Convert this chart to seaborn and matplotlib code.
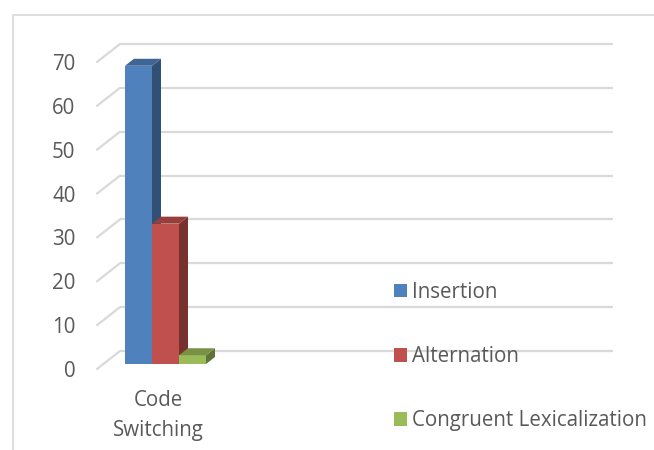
import pandas as pd
import numpy as np
import matplotlib
matplotlib.use("Agg")
import matplotlib.pyplot as plt
import matplotlib.transforms as mtransforms
from matplotlib.patches import Polygon, Rectangle
import seaborn as sns

# data
categories = ["Code Switching"]
series = ["Insertion", "Alternation", "Congruent Lexicalization"]
values = [68, 32, 2]
y_ticks = [0, 10, 20, 30, 40, 50, 60, 70]

df = pd.DataFrame({
    "category": categories * len(series),
    "series": series,
    "value": values,
})

palette = ["#4F81BD", "#C0504D", "#9BBB59"]
text_color = "#595959"
grid_color = "#D9D9D9"
font_size = 14.8

sns.set_style("white")
plt.rcParams["font.family"] = ["Open Sans", "DejaVu Sans"]

W, H = 654, 450
fig = plt.figure(figsize=(W / 100, H / 100), dpi=100)

# bar plane in pixels (from top-left)
left_px, right_px = 97, 590
top_px, bottom_px = 57, 364
center_px = 165.5
ax = fig.add_axes([left_px / W, (H - bottom_px) / H,
                   (right_px - left_px) / W, (bottom_px - top_px) / H])

sns.barplot(data=df, x="category", y="value", hue="series", palette=palette,
            saturation=1, width=0.8, ax=ax, legend=True)

ax.set_ylim(0, 70)
ppy = (bottom_px - top_px) / 70.0
ppx = 27 / (0.8 / 3)
ax.set_xlim((left_px - center_px) / ppx, (right_px - center_px) / ppx)

# back wall gridlines with their 3D floor diagonals
back_dy = 13 / ppy
gx0 = (120 - center_px) / ppx
gx1 = (613 - center_px) / ppx
dx0 = (left_px - center_px) / ppx
for v in y_ticks:
    ax.plot([gx0, gx1], [v + back_dy, v + back_dy], color=grid_color, lw=1.6,
            clip_on=False, zorder=1, solid_capstyle="butt")
    ax.plot([dx0, gx0], [v - 5 / ppy, v + back_dy], color=grid_color, lw=1.6,
            clip_on=False, zorder=1)

# fake depth on the bars
ddx = 9 / ppx
ddy = 7 / ppy
bars = [p for p in ax.patches if p.get_height() > 0]
for i, p in enumerate(bars):
    z = 3 + i
    p.set_zorder(z)
    p.set_edgecolor("none")
    x0, w, h = p.get_x(), p.get_width(), p.get_height()
    rgb = np.array(matplotlib.colors.to_rgb(p.get_facecolor()))
    side = Polygon([(x0 + w, 0), (x0 + w + ddx, ddy), (x0 + w + ddx, h + ddy), (x0 + w, h)],
                   closed=True, facecolor=rgb * 0.62, edgecolor="none", zorder=z, clip_on=False)
    top = Polygon([(x0, h), (x0 + w, h), (x0 + w + ddx, h + ddy), (x0 + ddx, h + ddy)],
                  closed=True, facecolor=rgb * 0.78, edgecolor="none", zorder=z, clip_on=False)
    ax.add_patch(side)
    ax.add_patch(top)

sns.despine(ax=ax, left=True, bottom=True)
ax.set_xlabel("")
ax.set_ylabel("")
ax.set_yticks(y_ticks)
ax.set_yticklabels([str(t) for t in y_ticks])
ax.set_xticks([0])
ax.set_xticklabels([c.replace(" ", "\n") for c in categories])
ax.tick_params(axis="y", length=0, pad=15.5, labelsize=font_size, labelcolor=text_color)
ax.tick_params(axis="x", length=0, pad=19, labelsize=font_size, labelcolor=text_color)
for lab in ax.get_yticklabels():
    lab.set_transform(lab.get_transform() + mtransforms.ScaledTranslation(0, -5 / 100, fig.dpi_scale_trans))
for lab in ax.get_xticklabels():
    lab.set_transform(lab.get_transform() + mtransforms.ScaledTranslation(-7 / 100, 0, fig.dpi_scale_trans))
    lab.set_linespacing(1.55)

sns.move_legend(ax, "upper left", bbox_to_anchor=(394 / W, 1 - 282 / H),
                bbox_transform=fig.transFigure, frameon=False, title=None,
                fontsize=font_size, labelcolor=text_color, handlelength=0.62,
                handleheight=0.62, handletextpad=0.28, labelspacing=2.1,
                borderpad=0, borderaxespad=0)
leg = ax.get_legend()
for hnd in leg.legend_handles:
    hnd.set_edgecolor("none")

# chart area border
fig.add_artist(Rectangle((13 / W, -0.2), 1.2, 1.2 - 15 / H,
                         transform=fig.transFigure, facecolor="none",
                         edgecolor=grid_color, lw=1.2))

fig.savefig("out.png", dpi=100)
